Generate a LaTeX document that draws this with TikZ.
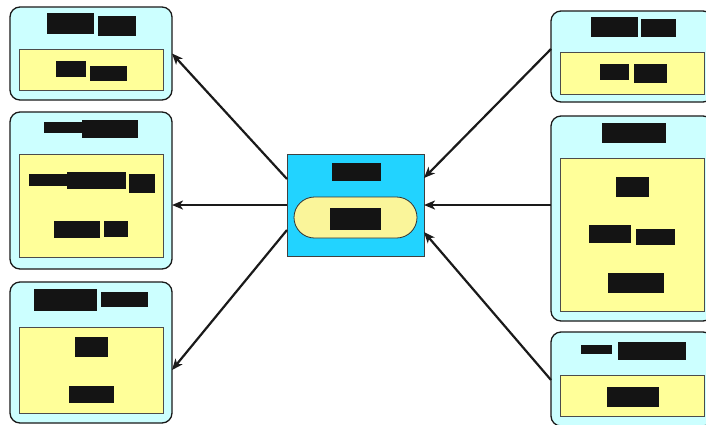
\documentclass[tikz,border=0pt]{standalone}
\usetikzlibrary{arrows.meta,shapes.misc}
\definecolor{panelcyan}{HTML}{CCFFFF}
\definecolor{paneyellow}{HTML}{FFFF99}
\definecolor{hubblue}{HTML}{22D3FF}
\definecolor{pillyellow}{HTML}{FAF59A}
\definecolor{inkline}{HTML}{1A1A1A}
\definecolor{redact}{HTML}{141414}
\begin{document}
\begin{tikzpicture}[x=1pt,y=-1pt,
  panel/.style={draw=inkline,line width=1.3pt,fill=panelcyan,rounded corners=10pt,
    inner sep=0pt,outer sep=0pt,minimum width=162pt},
  pane/.style={draw=black!70,line width=0.8pt,fill=paneyellow,
    inner sep=0pt,outer sep=0pt,minimum width=144pt},
  hub/.style={draw=black!75,line width=0.8pt,fill=hubblue,inner sep=0pt,outer sep=0pt,
    minimum width=137pt,minimum height=102pt},
  pill/.style={draw=black!80,line width=0.8pt,fill=pillyellow,rounded rectangle,
    inner sep=0pt,outer sep=0pt,minimum width=123pt,minimum height=41pt},
  arr/.style={draw=inkline,line width=2.2pt,-{Stealth[length=11pt,width=9pt,inset=3pt]}},
  bar/.style={fill=redact}]
\useasboundingbox (0,0) rectangle (706,424);
\clip (0,0) rectangle (706,424);
\fill[white] (0,0) rectangle (706,424);

% left column panels
\node[panel,minimum height=93pt]  (L1) at (91,53.5) {};
\node[pane,minimum height=41pt]   (L1i) at (91,69.5) {};
\node[panel,minimum height=157pt] (L2) at (91,190.5) {};
\node[pane,minimum height=103pt]  (L2i) at (91,205.5) {};
\node[panel,minimum height=141pt] (L3) at (91,352.5) {};
\node[pane,minimum height=86pt]   (L3i) at (91,370) {};

% right column panels
\node[panel,minimum height=91pt]  (R1) at (632,56.5) {};
\node[pane,minimum height=42pt]   (R1i) at (632,73) {};
\node[panel,minimum height=205pt] (R2) at (632,218.5) {};
\node[pane,minimum height=153pt]  (R2i) at (632,234.5) {};
\node[panel,minimum height=94pt]  (R3) at (632,379) {};
\node[pane,minimum height=41pt]   (R3i) at (632,395.5) {};

% central hub
\node[hub]  (C)  at (355.5,205) {};
\node[pill] (Cp) at (355.5,217.5) {};

% redacted labels
\fill[bar] (47,13) rectangle (94,34);   \fill[bar] (98,16) rectangle (136,36);
\fill[bar] (56,61) rectangle (86,77);   \fill[bar] (90,66) rectangle (127,81);

\fill[bar] (44,122) rectangle (83,133); \fill[bar] (82,120) rectangle (138,138);
\fill[bar] (29,174) rectangle (82,186); \fill[bar] (67,172) rectangle (126,189);
\fill[bar] (129,174) rectangle (155,193);
\fill[bar] (54,221) rectangle (100,238); \fill[bar] (104,221) rectangle (128,237);

\fill[bar] (34,289) rectangle (97,311); \fill[bar] (101,292) rectangle (148,307);
\fill[bar] (75,337) rectangle (108,357);
\fill[bar] (69,386) rectangle (114,403);

\fill[bar] (332,163) rectangle (381,181);
\fill[bar] (330,208) rectangle (381,230);

\fill[bar] (591,17) rectangle (638,37); \fill[bar] (641,19) rectangle (676,37);
\fill[bar] (600,64) rectangle (629,80); \fill[bar] (634,64) rectangle (667,83);

\fill[bar] (602,123) rectangle (666,143);
\fill[bar] (616,177) rectangle (649,197);
\fill[bar] (589,225) rectangle (631,243); \fill[bar] (636,229) rectangle (675,245);
\fill[bar] (608,273) rectangle (664,293);

\fill[bar] (581,345) rectangle (612,354); \fill[bar] (618,342) rectangle (686,360);
\fill[bar] (607,387) rectangle (659,407);

% connectors
\draw[arr] ([yshift=26pt]C.west)  -- (L1.east);
\draw[arr] (C.west)               -- ([yshift=-14.5pt]L2.east);
\draw[arr] ([yshift=-25pt]C.west) -- ([yshift=-17.5pt]L3.east);
\draw[arr] ([yshift=7.5pt]R1.west)  -- ([yshift=27pt]C.east);
\draw[arr] ([yshift=13.5pt]R2.west) -- (C.east);
\draw[arr] ([yshift=-1pt]R3.west)   -- ([yshift=-27pt]C.east);
\end{tikzpicture}
\end{document}
